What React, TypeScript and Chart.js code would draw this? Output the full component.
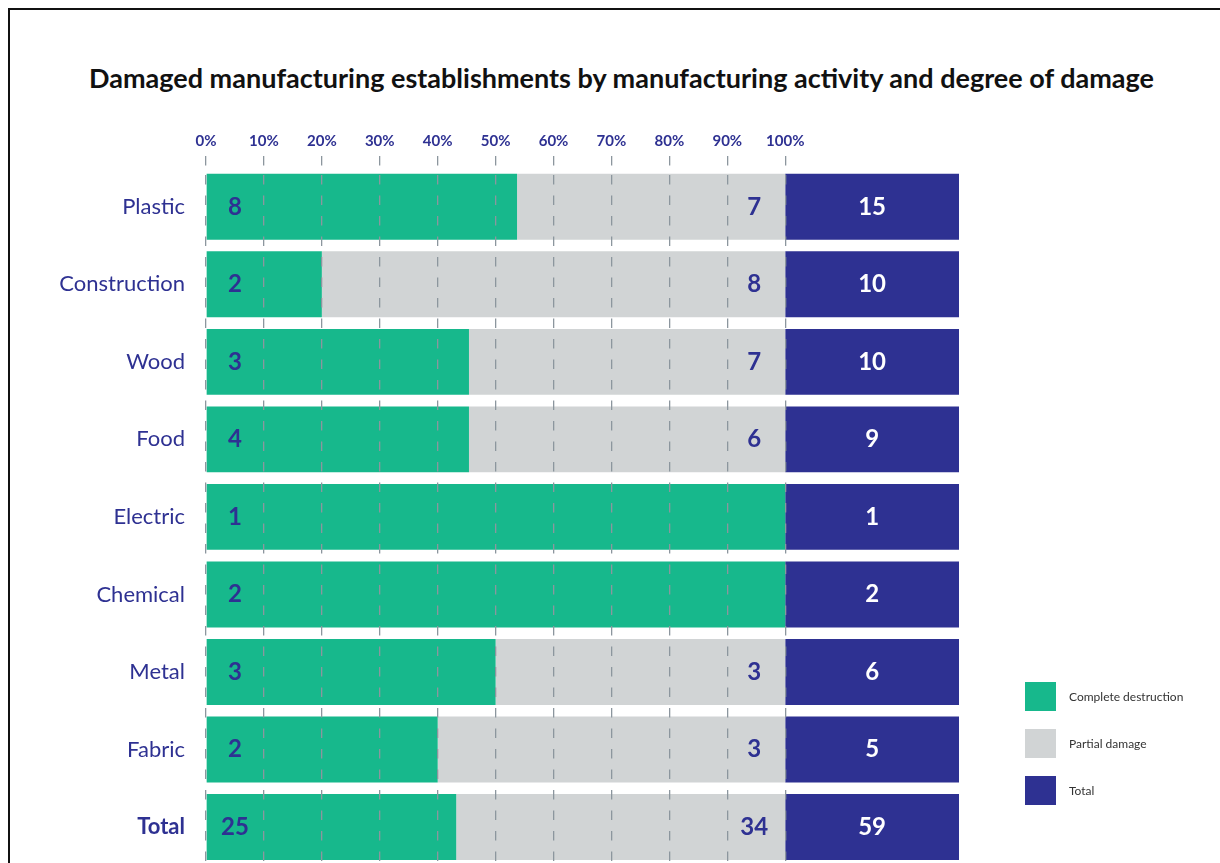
import React, { useEffect, useRef } from "react";
import { Chart, registerables } from "chart.js";

Chart.register(...registerables);

const FONT = "Lato, 'Open Sans', sans-serif";
const NAVY = "#2e3192";
const GREEN = "#17b88c";
const GRAY = "#d1d4d5";
const GRID = "#8c969e";

const chartTitle = "Damaged manufacturing establishments by manufacturing activity and degree of damage";
const categories = ["Plastic", "Construction", "Wood", "Food", "Electric", "Chemical", "Metal", "Fabric", "Total"];
const completeCounts = [8, 2, 3, 4, 1, 2, 3, 2, 25];
const partialCounts = [7, 8, 7, 6, 0, 0, 3, 3, 34];
const totalCounts = [15, 10, 10, 9, 1, 2, 6, 5, 59];
const completeShare = [53.7, 20, 45.4, 45.4, 100, 100, 50, 40, 43.2];
const partialShare = [46.3, 80, 54.6, 54.6, 0, 0, 50, 60, 56.8];
const totalSpan = [30, 30, 30, 30, 30, 30, 30, 30, 30];
const tickValues = [0, 10, 20, 30, 40, 50, 60, 70, 80, 90, 100];
const legendLabels = ["Complete destruction", "Partial damage", "Total"];
const legendColors = [GREEN, GRAY, NAVY];

const valueLabels = {
  id: "valueLabels",
  afterDatasetsDraw(chart: any) {
    const ctx = chart.ctx;
    const xs = chart.scales.x;
    const m0 = chart.getDatasetMeta(0);
    const m2 = chart.getDatasetMeta(2);
    ctx.save();
    ctx.font = `bold 24px ${FONT}`;
    ctx.textBaseline = "middle";
    categories.forEach((_, i) => {
      const y = m0.data[i].y;
      ctx.fillStyle = NAVY;
      ctx.textAlign = "center";
      ctx.fillText(String(completeCounts[i]), xs.getPixelForValue(0) + 29, y);
      if (partialCounts[i] > 0) {
        ctx.fillText(String(partialCounts[i]), xs.getPixelForValue(100) - 31, y);
      }
      const b2 = m2.data[i];
      ctx.fillStyle = "#ffffff";
      ctx.fillText(String(totalCounts[i]), (b2.x + b2.base) / 2, y);
    });
    ctx.restore();
  },
};

export default function App() {
  const ref = useRef<HTMLCanvasElement | null>(null);

  useEffect(() => {
    if (!ref.current) return;
    const chart = new Chart(ref.current, {
      type: "bar",
      data: {
        labels: categories,
        datasets: [
          { label: legendLabels[0], data: completeShare, backgroundColor: GREEN },
          { label: legendLabels[1], data: partialShare, backgroundColor: GRAY },
          { label: legendLabels[2], data: totalSpan, backgroundColor: NAVY },
        ],
      },
      options: {
        indexAxis: "y",
        responsive: false,
        animation: false,
        events: [],
        layout: { padding: { top: 0, left: 0, right: 261, bottom: 32 } },
        datasets: { bar: { barPercentage: 0.85, categoryPercentage: 1.0, borderWidth: 0 } },
        plugins: { legend: { display: false }, tooltip: { enabled: false }, title: { display: false } },
        scales: {
          x: {
            position: "top",
            stacked: true,
            min: 0,
            max: 130,
            afterFit: (s: any) => { s.height = 168; },
            afterBuildTicks: (s: any) => { s.ticks = tickValues.map((v) => ({ value: v })); },
            ticks: {
              padding: 6,
              color: NAVY,
              font: { family: FONT, size: 15, weight: "bold" },
              callback: (v: any) => `${v}%`,
            },
            grid: {
              z: 1,
              color: GRID,
              lineWidth: 1.3,
              drawTicks: true,
              tickLength: 12,
              tickColor: GRID,
              tickWidth: 1.3,
              tickBorderDash: [9.5, 11],
            },
            border: { display: false, dash: [9.5, 11], dashOffset: 13.5 },
          },
          y: {
            stacked: true,
            afterFit: (s: any) => { s.width = 206; },
            grid: { display: false, drawTicks: false },
            border: { display: false },
            ticks: {
              padding: 21,
              color: NAVY,
              font: (c: any) => ({ family: FONT, size: 22, weight: c.index === categories.length - 1 ? "bold" : "normal" }),
            },
          },
        },
      },
      plugins: [valueLabels],
    });
    return () => chart.destroy();
  }, []);

  return (
    <div style={{ position: "fixed", left: 0, top: 0, width: 1220, height: 863, overflow: "hidden", background: "#fff" }}>
      <div style={{ position: "absolute", left: 8, top: 8, width: 1230, height: 900, borderTop: "2px solid #111", borderLeft: "2px solid #111" }} />
      <div style={{ position: "absolute", left: 0, width: 1243, top: 61, textAlign: "center", fontFamily: FONT, fontWeight: 700, fontSize: 27, color: "#111", whiteSpace: "nowrap" }}>
        {chartTitle}
      </div>
      <canvas ref={ref} width={1220} height={900} style={{ position: "absolute", left: 0, top: 0, width: 1220, height: 900 }} />
      {legendLabels.map((lab, i) => (
        <div key={lab} style={{ position: "absolute", left: 1025, top: 682 + i * 47, height: 29, display: "flex", alignItems: "center" }}>
          <div style={{ width: 31, height: 29, background: legendColors[i] }} />
          <span style={{ marginLeft: 13, fontFamily: FONT, fontSize: 12, color: "#333" }}>{lab}</span>
        </div>
      ))}
    </div>
  );
}
